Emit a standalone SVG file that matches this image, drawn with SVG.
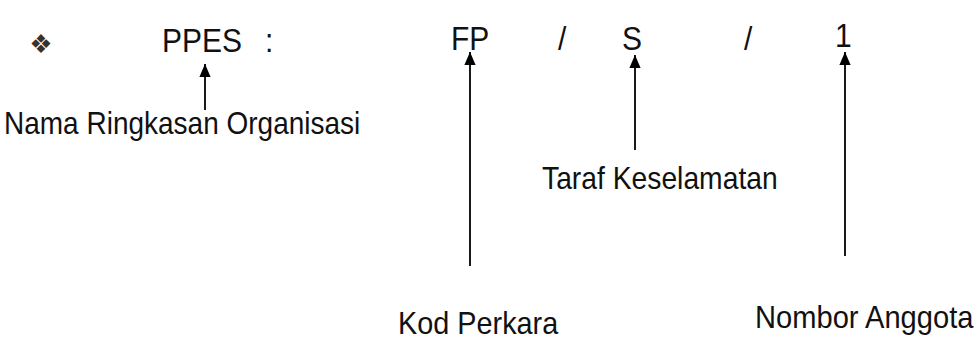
<svg xmlns="http://www.w3.org/2000/svg" width="977" height="347" viewBox="0 0 977 347">
  <defs>
    <marker id="head" markerUnits="userSpaceOnUse" markerWidth="13" markerHeight="15" viewBox="0 0 15 13" refX="15" refY="6.5" orient="auto">
      <path d="M0,0 L15,6.5 L0,13 Z" fill="#000"/>
    </marker>
  </defs>
  <style>
    text { font-family: "Liberation Sans", Arial, sans-serif; font-size: 28px; fill: #111; }
    .big { font-size: 30px; }
    .bullet { font-family: "DejaVu Sans", sans-serif; font-size: 26px; fill: #333; }
    .link { stroke: #000; stroke-width: 1.8; fill: none; marker-end: url(#head); }
  </style>
  <rect width="977" height="347" fill="#fff"/>

  <!-- code line -->
  <g id="code">
    <text class="bullet" x="41" y="53" text-anchor="middle">❖</text>
    <text class="big" transform="translate(162 52) scale(1 1.12)">PPES</text>
    <text class="big" transform="translate(265 52) scale(1 1.12)">:</text>
    <text class="big" transform="translate(451 50) scale(1 1.12)">FP</text>
    <text class="big" transform="translate(558 50) scale(1 1.12)">/</text>
    <text class="big" transform="translate(622 50) scale(1 1.12)">S</text>
    <text class="big" transform="translate(744 50) scale(1 1.12)">/</text>
    <text class="big" transform="translate(835 47) scale(1 1.12)">1</text>
  </g>

  <!-- labels -->
  <g id="label-organisasi">
    <text transform="translate(4 134) scale(1 1.12)">Nama Ringkasan Organisasi</text>
  </g>
  <g id="label-keselamatan">
    <text transform="translate(542 189) scale(1.01 1.12)">Taraf Keselamatan</text>
  </g>
  <g id="label-perkara">
    <text transform="translate(398 334) scale(1.03 1.12)">Kod Perkara</text>
  </g>
  <g id="label-anggota">
    <text transform="translate(755 328) scale(1.04 1.12)">Nombor Anggota</text>
  </g>

  <!-- pointers from labels to code parts -->
  <g id="connectors">
    <line class="link" x1="205" y1="110" x2="205" y2="64"/>
    <line class="link" x1="470" y1="266" x2="470" y2="52"/>
    <line class="link" x1="635" y1="150" x2="635" y2="55"/>
    <line class="link" x1="845" y1="256" x2="845" y2="52"/>
  </g>
</svg>
